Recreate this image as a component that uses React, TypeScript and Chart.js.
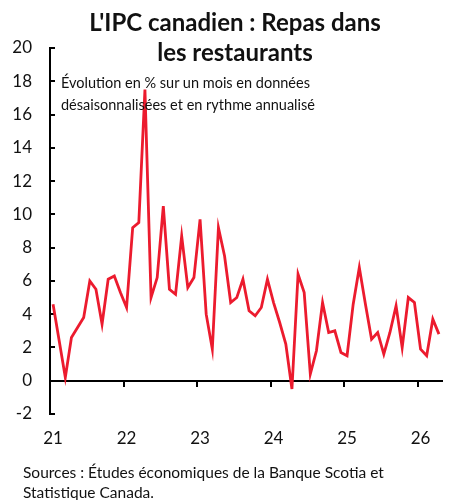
import React, { useEffect, useRef } from "react";
import { Chart, registerables } from "chart.js";

Chart.register(...registerables);

// Monthly data, Jan 2021 – Apr 2026 (% m/m, SA, annualized)
const startYear = 2021;
const values: number[] = [
  4.6, 2.4, 0.2, 2.6, 3.2, 3.8, 6.0, 5.5, 3.4, 6.1, 6.3, 5.3,
  4.4, 9.2, 9.5, 17.5, 5.0, 6.2, 10.5, 5.5, 5.2, 8.7, 5.6, 6.2,
  9.7, 4.0, 1.9, 9.2, 7.5, 4.7, 5.0, 6.1, 4.2, 3.9, 4.4, 6.1,
  4.7, 3.5, 2.2, -0.5, 6.4, 5.3, 0.4, 1.8, 4.7, 2.9, 3.0, 1.7,
  1.5, 4.6, 6.8, 4.6, 2.5, 2.9, 1.6, 2.9, 4.5, 2.0, 5.0, 4.7,
  1.9, 1.5, 3.7, 2.8,
];
const yearLabels: string[] = ["21", "22", "23", "24", "25", "26"];
const yTicks: number[] = [-2, 0, 2, 4, 6, 8, 10, 12, 14, 16, 18, 20];

const title = ["L'IPC canadien : Repas dans", "les restaurants"];
const note = ["Évolution en % sur un mois en données", "désaisonnalisées et en rythme annualisé"];
const source = ["Sources : Études économiques de la Banque Scotia et", "Statistique Canada."];

const FONT = "Lato, 'Open Sans', sans-serif";
const RED = "#EC1B2E";

export default function App() {
  const ref = useRef<HTMLCanvasElement | null>(null);

  useEffect(() => {
    if (!ref.current) return;
    const points = values.map((v, i) => ({ x: i + 0.5, y: v }));
    const nMonths = values.length;
    const chart = new Chart(ref.current, {
      type: "line",
      data: {
        datasets: [
          {
            data: points,
            borderColor: RED,
            borderWidth: 2.8,
            pointRadius: 0,
            tension: 0,
            fill: false,
          },
        ],
      },
      options: {
        animation: false,
        responsive: false,
        maintainAspectRatio: false,
        layout: { padding: { top: 48, right: 15, left: 0, bottom: 0 } },
        plugins: { legend: { display: false }, tooltip: { enabled: false } },
        scales: {
          x: {
            type: "linear",
            position: "bottom",
            min: 0,
            max: nMonths,
            grid: { display: false, drawTicks: false },
            border: { display: false },
            afterBuildTicks: (s: any) => {
              s.ticks = yearLabels.map((_, i) => ({ value: i * 12 + 0.5 }));
            },
            afterFit: (s: any) => {
              s.height = 86;
            },
            ticks: {
              padding: 14,
              maxRotation: 0,
              autoSkip: false,
              color: "#111",
              font: { family: FONT, size: 17 },
              callback: (_v: any, i: number) => yearLabels[i],
            },
          },
          x2: {
            type: "linear",
            axis: "x",
            position: { y: 0 },
            min: 0,
            max: nMonths,
            grid: {
              display: true,
              drawOnChartArea: false,
              drawTicks: true,
              tickLength: 5,
              color: "#000",
              lineWidth: 2,
            },
            border: { display: true, color: "#000", width: 2 },
            afterBuildTicks: (s: any) => {
              s.ticks = yearLabels.map((_, i) => ({ value: i * 12 }));
            },
            ticks: { display: false },
          },
          y: {
            type: "linear",
            position: "left",
            min: -2,
            max: 20,
            afterBuildTicks: (s: any) => {
              s.ticks = yTicks.map((v) => ({ value: v }));
            },
            afterFit: (s: any) => {
              s.width = 50;
            },
            grid: {
              display: true,
              drawOnChartArea: false,
              drawTicks: true,
              tickLength: -5,
              color: "#000",
              lineWidth: 2,
            },
            border: { display: true, color: "#000", width: 2 },
            ticks: {
              padding: 23,
              color: "#111",
              font: { family: FONT, size: 17 },
            },
          },
        },
      },
    } as any);
    return () => chart.destroy();
  }, []);

  return (
    <div
      style={{
        position: "absolute",
        left: 0,
        top: 0,
        width: 457,
        height: 500,
        background: "#fff",
        fontFamily: FONT,
        color: "#111",
      }}
    >
      <canvas ref={ref} width={457} height={500} style={{ position: "absolute", left: 0, top: 0 }} />
      <div
        style={{
          position: "absolute",
          left: 0,
          width: 470,
          top: 7,
          textAlign: "center",
          fontWeight: 700,
          fontSize: 24,
          lineHeight: "30px",
        }}
      >
        {title.map((t, i) => (
          <div key={i}>{t}</div>
        ))}
      </div>
      <div
        style={{
          position: "absolute",
          left: 61,
          top: 72,
          fontSize: 14.5,
          lineHeight: "22px",
          whiteSpace: "nowrap",
        }}
      >
        {note.map((t, i) => (
          <div key={i}>{t}</div>
        ))}
      </div>
      <div
        style={{
          position: "absolute",
          left: 23,
          top: 462,
          fontSize: 15.5,
          lineHeight: "20px",
          whiteSpace: "nowrap",
        }}
      >
        {source.map((t, i) => (
          <div key={i}>{t}</div>
        ))}
      </div>
    </div>
  );
}
